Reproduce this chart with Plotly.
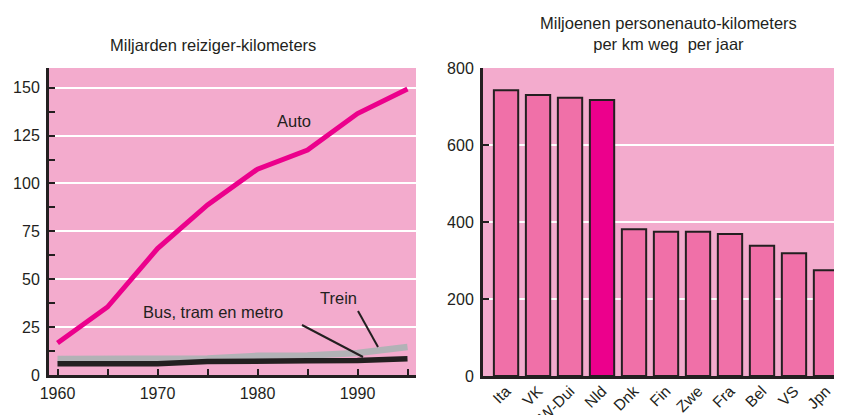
import plotly.graph_objects as go

# Left chart data (miljarden reiziger-kilometers)
years = [1960, 1965, 1970, 1975, 1980, 1985, 1990, 1995]
auto = [16.7, 35.5, 66, 88.8, 107.5, 117.5, 136.5, 149.3]
trein = [8.4, 8.4, 8.4, 8.6, 10.0, 10.2, 11.5, 14.6]
bus = [5.9, 5.9, 5.9, 7.0, 7.5, 7.5, 7.6, 8.5]

# Right chart data (miljoenen personenauto-km per km weg per jaar)
landen = ["Ita", "VK", "W-Dui", "Nld", "Dnk", "Fin", "Zwe", "Fra", "Bel", "VS", "Jpn"]
waarden = [742, 730, 723, 717, 381, 375, 375, 369, 338, 319, 275]

PLOT_BG = "#f3abcd"
BAR = "#f070a8"
HIGHLIGHT = "#ec008c"
DARK = "#231f20"
GREY = "#b2b2b6"
FONT = "Liberation Sans, Arial, sans-serif"

# page has an 8px body margin; figure is sized/positioned to compensate
W, H = 834, 407
OFF = 8


def px_x(p):
    return (p - OFF) / W


def px_y(p):
    return 1 - (p - OFF) / H


fig = go.Figure()

fig.add_trace(go.Scatter(x=years, y=trein, mode="lines", line=dict(color=GREY, width=6.5),
                         xaxis="x", yaxis="y", showlegend=False))
fig.add_trace(go.Scatter(x=years, y=bus, mode="lines", line=dict(color=DARK, width=5.5),
                         xaxis="x", yaxis="y", showlegend=False))
fig.add_trace(go.Scatter(x=years, y=auto, mode="lines", line=dict(color=HIGHLIGHT, width=5),
                         xaxis="x", yaxis="y", showlegend=False))

bar_colors = [HIGHLIGHT if l == "Nld" else BAR for l in landen]
fig.add_trace(go.Bar(x=landen, y=waarden, marker=dict(color=bar_colors, line=dict(color=DARK, width=2)),
                     xaxis="x2", yaxis="y2", showlegend=False, width=0.76))

axis_common = dict(showline=True, linecolor=DARK, linewidth=3, mirror=False, automargin=False,
                   zeroline=False)
tfont = dict(family=FONT, size=16, color=DARK)
tk = dict(ticks="inside", ticklen=6, tickwidth=1.5, tickcolor=DARK)

fig.update_layout(
    width=W, height=H,
    margin=dict(l=0, r=0, t=0, b=0, autoexpand=False),
    paper_bgcolor="white",
    plot_bgcolor=PLOT_BG,
    font=dict(family=FONT, color=DARK),
    xaxis=dict(domain=[px_x(49), px_x(416)], range=[1959.15, 1995.85],
               tickvals=[1960, 1970, 1980, 1990], ticklabelstandoff=2, tickfont=tfont,
               minor=dict(tickvals=[1965, 1975, 1985, 1995], **tk),
               showgrid=False, anchor="y", **tk, **axis_common),
    yaxis=dict(domain=[px_y(375), px_y(68)], range=[0, 160.3],
               tickvals=[0, 25, 50, 75, 100, 125, 150], ticklabelstandoff=3, tickfont=tfont,
               minor=dict(tickvals=[12.5, 37.5, 62.5, 87.5, 112.5, 137.5], **tk),
               showgrid=True, gridcolor="white", gridwidth=2, anchor="x", **tk, **axis_common),
    xaxis2=dict(domain=[px_x(483), 1.0], range=[-0.72, 10.5], tickangle=-45, ticks="",
                ticklabelstandoff=-3, tickfont=dict(family=FONT, size=15.5, color=DARK),
                showgrid=False, anchor="y2", **axis_common),
    yaxis2=dict(domain=[px_y(376), px_y(68)], range=[0, 800],
                tickvals=[0, 200, 400, 600, 800], ticklabelstandoff=3, tickfont=tfont,
                showgrid=True, gridcolor="white", gridwidth=2, anchor="x2", **tk, **axis_common),
    bargap=0.24,
)

txt = dict(size=16.5, color=DARK, family=FONT)
annotations = [
    dict(text="Miljarden reiziger-kilometers", x=px_x(213), y=px_y(45), xref="paper", yref="paper",
         xanchor="center", yanchor="middle", showarrow=False, font=txt),
    dict(text="Miljoenen personenauto-kilometers<br>per km weg  per jaar", x=px_x(668), y=px_y(34),
         xref="paper", yref="paper", xanchor="center", yanchor="middle", showarrow=False, font=txt),
    dict(text="Auto", x=1983.6, y=132.6, xref="x", yref="y", showarrow=False,
         xanchor="center", yanchor="middle", font=txt),
    dict(text="Bus, tram en metro", x=1975.55, y=32.9, xref="x", yref="y", showarrow=False,
         xanchor="center", yanchor="middle", font=txt),
    dict(text="Trein", x=1988.05, y=40.2, xref="x", yref="y", showarrow=False,
         xanchor="center", yanchor="middle", font=txt),
]
fig.update_layout(annotations=annotations)

fig.update_layout(shapes=[
    dict(type="line", xref="x", yref="y", x0=1984.45, y0=26.1, x1=1990.55, y1=9.4,
         line=dict(color=DARK, width=2)),
    dict(type="line", xref="x", yref="y", x0=1990.05, y0=33.4, x1=1992.05, y1=14.6,
         line=dict(color=DARK, width=2)),
])

fig.write_html("out.html")
